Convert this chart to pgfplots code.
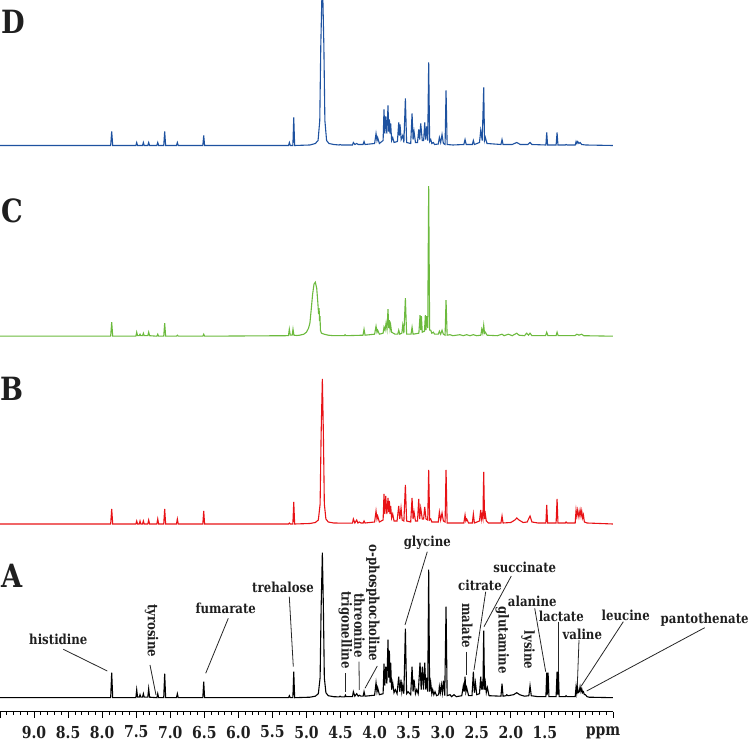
\documentclass[border=0pt]{standalone}
\usepackage{pgfplots}
\pgfplotsset{compat=1.18}
\usepackage{pgfplotstable}
\usepackage{fontspec}
\setmainfont{DejaVu Serif}[FakeStretch=0.85]
\definecolor{cD}{RGB}{30,82,160}
\definecolor{cC}{RGB}{108,186,62}
\definecolor{cB}{RGB}{232,18,22}

\pgfplotstableread{
x y
9.50 0
7.875 0
7.860 25
7.845 0
7.505 0
7.493 8
7.480 0.5
7.455 0.5
7.444 3
7.432 0.5
7.408 0.5
7.395 4
7.383 0.5
7.330 0.5
7.317 9
7.304 0.5
7.197 0
7.184 4
7.171 0
7.096 0
7.082 24
7.068 0
6.909 0
6.896 4
6.883 0
6.522 0
6.509 16
6.496 0
5.264 0
5.251 2
5.238 0
5.200 0
5.187 26
5.174 0
4.95 0.5
4.87 1.5
4.826 4
4.800 20
4.785 90
4.767 145
4.752 90
4.738 20
4.715 5
4.68 2
4.60 1
4.52 0.8
4.508 1.5
4.49 0.8
4.44 0.8
4.429 2.5
4.418 1
4.325 1
4.312 6
4.290 1.5
4.263 4
4.24 1.5
4.224 2.5
4.20 1.5
4.168 1.5
4.155 6
4.14 1.5
4.00 2.5
3.979 15
3.965 6
3.955 10
3.93 3
3.875 4
3.862 34
3.850 12
3.837 31
3.820 14
3.803 58
3.793 20
3.783 47
3.773 15
3.764 35
3.750 8
3.734 15
3.715 5
3.695 8
3.670 4
3.646 21
3.630 6
3.612 18
3.600 6
3.587 12
3.570 4
3.548 69
3.530 4
3.509 6
3.47 3
3.450 31
3.435 6
3.421 18
3.40 4
3.382 8
3.36 4
3.333 35
3.316 8
3.299 31
3.282 8
3.264 35
3.248 8
3.235 20
3.220 6
3.206 128
3.192 6
3.176 15
3.160 4
3.147 8
3.130 3
3.113 6
3.09 2
3.06 3
3.049 11
3.035 5
3.020 13
3.005 5
2.990 17
2.970 2
2.951 91
2.935 2
2.892 3
2.87 1
2.834 3
2.80 1
2.72 2
2.697 12
2.685 6
2.672 21
2.660 6
2.648 10
2.62 2
2.57 2
2.550 26
2.535 5
2.520 15
2.50 3
2.46 4
2.442 21
2.432 8
2.423 16
2.410 8
2.398 67
2.386 8
2.374 15
2.360 5
2.344 10
2.32 2
2.145 1.5
2.129 14
2.114 1.5
2.07 2
2.060 3
2.04 2
1.96 3
1.913 5
1.87 3
1.80 1.5
1.735 2
1.718 12
1.700 2
1.60 1
1.485 1
1.473 25
1.463 3
1.453 25
1.44 1
1.335 1
1.321 26
1.311 3
1.302 26
1.29 1
1.20 1
1.189 2
1.175 1
1.055 1
1.042 11
1.032 5
1.023 11
1.010 5
0.995 6
0.983 11
0.970 6
0.959 9
0.945 5
0.934 6
0.920 3
0.905 3
0.88 1
0.85 0.5
0.5 0
}\specA

\pgfplotstableread{
x y
9.50 0
7.875 0
7.860 15
7.845 0
7.505 0
7.493 3
7.480 0
7.456 0
7.444 3
7.432 0
7.407 0
7.395 3
7.383 0
7.330 0
7.317 4
7.304 0
7.197 0
7.184 5
7.171 0
7.096 0
7.082 15
7.068 0
6.909 0
6.896 5
6.883 0
6.522 0
6.509 13
6.496 0
5.264 0
5.251 1
5.238 0
5.200 0
5.187 22
5.174 0
4.95 0.5
4.87 1.5
4.826 4
4.800 20
4.785 90
4.767 145
4.752 90
4.738 20
4.715 5
4.68 2
4.60 1
4.40 0.8
4.325 0.8
4.312 5
4.29 1
4.263 4
4.245 1
4.224 2
4.20 1
4.168 1
4.155 3
4.14 1
4.00 2
3.979 13
3.965 5
3.955 8
3.93 2
3.875 4
3.862 30
3.850 10
3.837 28
3.820 10
3.803 26
3.793 12
3.783 23
3.773 10
3.764 18
3.750 6
3.734 10
3.715 3
3.670 3
3.646 18
3.630 5
3.612 16
3.595 4
3.570 3
3.548 39
3.530 3
3.470 2
3.450 26
3.435 5
3.421 12
3.40 3
3.370 3
3.352 25
3.338 5
3.323 16
3.300 5
3.280 5
3.264 17
3.245 5
3.220 4
3.206 54
3.192 4
3.176 5
3.160 2
3.065 2
3.049 12
3.030 4
3.010 11
2.990 3
2.965 2
2.951 54
2.935 1
2.85 1
2.69 1
2.672 9
2.660 3
2.648 5
2.62 1
2.565 1
2.550 10
2.535 1
2.46 3
2.442 14
2.432 5
2.423 9
2.410 5
2.398 52
2.386 5
2.374 10
2.360 3
2.33 1
2.145 1
2.129 8
2.114 1
2.00 1.5
1.94 4
1.913 6
1.88 4
1.82 1.5
1.76 2
1.718 8
1.690 2
1.60 1
1.485 1
1.473 19
1.460 1
1.335 1
1.321 25
1.308 1
1.20 1
1.189 2
1.175 1
1.055 1
1.042 14
1.030 8
1.018 14
1.000 7
0.983 14
0.970 8
0.959 13
0.945 6
0.934 9
0.920 2
0.88 1
0.5 0
}\specB

\pgfplotstableread{
x y
9.50 0
7.875 0
7.860 14
7.845 0
7.505 0
7.493 4
7.480 0.5
7.456 0.5
7.444 2
7.432 0.5
7.407 0.5
7.395 3
7.383 0.5
7.330 0.5
7.317 4
7.304 0.5
7.197 0
7.184 2
7.171 0
7.096 0
7.082 13
7.068 0
6.909 0
6.896 1
6.883 0
6.522 0
6.509 2
6.496 0
5.30 0.5
5.265 0.5
5.252 7
5.238 1
5.210 1
5.198 7
5.185 1
5.14 0.7
5.10 1
5.04 2
5.00 4
4.97 8
4.95 13
4.93 27
4.91 42
4.89 52
4.87 54
4.85 48
4.835 35
4.822 22
4.815 28
4.808 15
4.802 20
4.795 6
4.78 3
4.74 2
4.68 1
4.60 0.5
4.445 0.5
4.434 1.5
4.42 0.5
4.17 1
4.155 7
4.14 1
4.00 2
3.979 10
3.965 4
3.955 6
3.93 2
3.875 3
3.862 9
3.847 6
3.832 13
3.818 7
3.803 27
3.793 8
3.783 16
3.773 7
3.764 11
3.750 4
3.70 2
3.660 2
3.646 6
3.630 2
3.600 3
3.587 11
3.570 3
3.548 38
3.530 2
3.465 2
3.450 9
3.435 2
3.350 3
3.333 21
3.323 6
3.313 20
3.300 4
3.268 5
3.255 21
3.245 6
3.235 20
3.220 8
3.206 150
3.192 6
3.176 6
3.160 3
3.137 4
3.120 2
3.065 2
3.049 5
3.030 2
3.010 6
2.990 2
2.965 1
2.951 36
2.935 1
2.892 1.5
2.85 0.5
2.746 1.5
2.70 0.5
2.648 1.5
2.60 0.5
2.550 1.5
2.50 0.5
2.440 1
2.427 7
2.412 3
2.398 11
2.386 3
2.374 4
2.35 1
2.20 0.5
2.129 2
2.10 0.5
2.036 2
1.98 0.5
1.913 3
1.88 1
1.80 0.5
1.767 3
1.740 1
1.718 3
1.69 0.5
1.49 0.5
1.473 4
1.455 0.5
1.335 0.5
1.321 4
1.305 0.5
1.06 0.5
1.03 2
1.00 1
0.96 2
0.93 0.5
0.5 0
}\specC

\pgfplotstableread{
x y
9.50 0
7.875 0
7.860 14
7.845 0
7.505 0
7.493 3
7.480 0
7.407 0
7.395 3
7.383 0
7.330 0
7.317 3
7.304 0
7.197 0
7.184 3
7.171 0
7.096 0
7.082 14
7.068 0
6.909 0
6.896 3
6.883 0
6.522 0
6.509 10
6.496 0
5.264 0
5.251 3
5.238 0
5.200 0
5.187 28
5.174 0
4.95 0.5
4.87 2
4.83 5
4.805 25
4.790 100
4.767 170
4.745 100
4.730 25
4.705 5
4.67 2
4.60 1
4.52 0.5
4.508 1
4.49 0.5
4.325 0.5
4.312 3
4.29 1
4.263 2
4.24 1
4.17 1
4.155 4
4.14 1
4.00 2
3.979 12
3.965 5
3.955 8
3.93 2
3.875 5
3.862 36
3.850 12
3.837 29
3.820 12
3.803 40
3.793 14
3.783 26
3.773 12
3.764 22
3.750 5
3.734 8
3.715 3
3.665 4
3.646 23
3.637 10
3.627 21
3.610 6
3.587 10
3.570 3
3.548 47
3.530 3
3.470 2
3.450 32
3.435 6
3.421 14
3.40 3
3.370 3
3.352 16
3.338 6
3.323 22
3.300 5
3.280 5
3.264 23
3.250 6
3.235 19
3.220 5
3.206 83
3.192 4
3.176 6
3.160 2
3.137 3
3.120 1
3.065 1.5
3.049 8
3.030 3
3.010 11
2.990 2
2.965 1
2.951 55
2.935 1
2.85 0.5
2.69 1
2.672 6
2.655 1
2.565 1
2.550 5
2.535 1
2.46 3
2.442 15
2.420 5
2.398 58
2.386 5
2.374 8
2.35 2
2.145 1
2.129 6
2.114 1
1.98 1
1.913 3
1.86 1
1.75 1
1.718 3
1.69 1
1.485 0.5
1.473 13
1.460 0.5
1.335 0.5
1.321 13
1.308 0.5
1.20 0.5
1.189 1
1.175 0.5
1.055 0.5
1.042 4
1.030 2
1.018 4
1.000 2
0.983 3
0.960 1
0.90 0.5
0.5 0
}\specD

\tikzset{
  lab/.style={font=\bfseries\fontsize{13.8}{14}\selectfont, inner sep=0pt, text=black!88},
  rlab/.style={lab, rotate=-90},
  lead/.style={line width=0.8pt, black!85},
  big/.style={font=\bfseries\fontsize{32}{32}\selectfont, inner sep=0pt, text=black!88}
}

\begin{document}
\begin{tikzpicture}[x=1pt,y=1pt]
\path[use as bounding box] (0,-33.3) rectangle (748,711.7);
\begin{axis}[
  at={(0,0)}, anchor=south west,
  scale only axis, width=613pt, height=711.7pt,
  xmin=0.5, xmax=9.5, ymin=0, ymax=711.7,
  x dir=reverse,
  axis x line*=bottom, hide y axis,
  x axis line style={-, line width=1.1pt},
  xtick={9.5,9.0,8.5,...,0.5},
  xticklabels={,9.0,8.5,8.0,7.5,7.0,6.5,6.0,5.5,5.0,4.5,4.0,3.5,3.0,2.5,2.0,1.5,,},
  minor x tick num=4,
  tick align=outside,
  major tick length=6pt, minor tick length=3pt,
  every tick/.style={black, line width=0.8pt},
  xticklabel style={font=\bfseries\fontsize{16.5}{16.5}\selectfont, text=black!88, anchor=center, yshift=-14.3pt},
  clip=true,
]
\addplot[cD, line width=1.1pt] table[x index=0, y expr=\thisrowno{1}+566.2] {\specD};
\addplot[cC, line width=1.1pt] table[x index=0, y expr=\thisrowno{1}+375.5] {\specC};
\addplot[cB, line width=1.1pt] table[x index=0, y expr=\thisrowno{1}+187.7] {\specB};
\addplot[black, line width=1.1pt] table[x index=0, y expr=\thisrowno{1}+14] {\specA};
\end{axis}

\node[big] at (13,689.7) {D};
\node[big] at (12,500.7) {C};
\node[big] at (12,323) {B};
\node[big] at (12.5,135.7) {A};

\node[font=\bfseries\fontsize{16.5}{16.5}\selectfont, inner sep=0pt, text=black!88] at (603,-21.3) {ppm};

\node[lab] at (58.3,72.4) {histidine};
\draw[lead] (63.3,62.4) -- (107.3,40.7);
\node[rlab] at (151.7,81) {tyrosine};
\draw[lead] (150,46.7) -- (156,16.7);
\node[lab] at (225.8,103.4) {fumarate};
\draw[lead] (228.3,93.4) -- (205.7,38.4);
\node[lab] at (283,124) {trehalose};
\draw[lead] (289.3,115) -- (293.3,45);
\node[rlab] at (345.3,81.7) {trigonelline};
\draw[lead] (345.3,38.4) -- (345.3,20);
\node[rlab] at (359.5,86) {threonine};
\draw[lead] (359,50) -- (359.3,21.7);
\node[rlab] at (373,108.7) {o-phosphocholine};
\draw[lead] (377.3,45.7) -- (365,23.4);
\node[lab] at (427.3,169.4) {glycine};
\draw[lead] (427.3,160) -- (405,86.7);
\node[lab] at (480,126.7) {citrate};
\draw[lead] (485.7,120) -- (474,41.7);
\node[lab] at (524.7,144) {succinate};
\draw[lead] (511.3,135.7) -- (484,85);
\node[rlab] at (467.3,86) {malate};
\draw[lead] (466,60) -- (466,36.7);
\node[rlab] at (502.3,71.7) {glutamine};
\node[rlab] at (528,61.7) {lysine};
\node[lab] at (532.3,110) {alanine};
\draw[lead] (534.7,103.4) -- (545.7,40);
\node[lab] at (561.3,95) {lactate};
\draw[lead] (558,90) -- (558,40);
\node[lab] at (582.3,77.7) {valine};
\draw[lead] (579,71.7) -- (577.3,25.7);
\node[lab] at (625.7,96) {leucine};
\draw[lead] (623.3,90) -- (581.3,25.7);
\node[lab] at (704.7,91.7) {pantothenate};
\draw[lead] (704.7,84) -- (586.7,20.7);
\end{tikzpicture}
\end{document}
